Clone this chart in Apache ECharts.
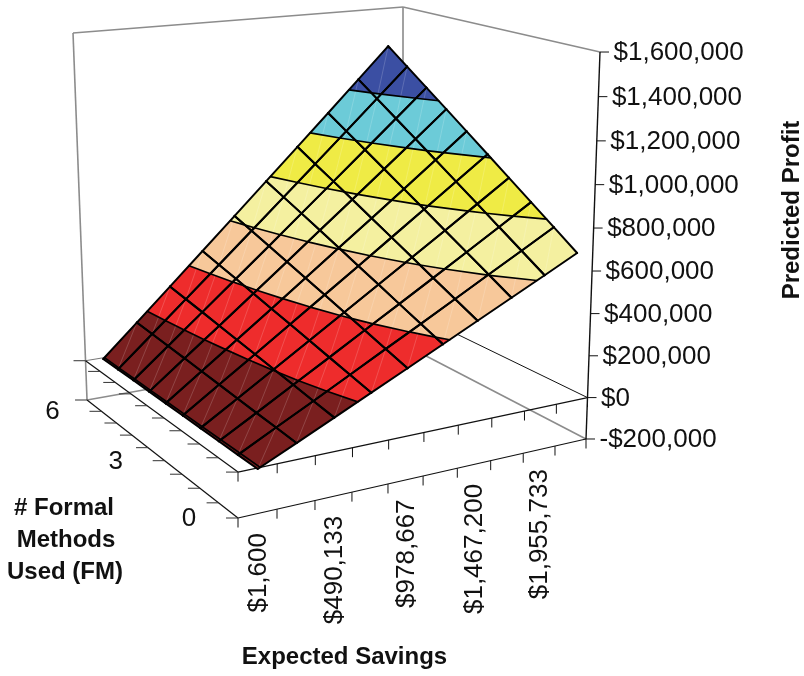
<!DOCTYPE html>
<html><head><meta charset="utf-8">
<style>html,body{margin:0;padding:0;background:#fff}#c{width:804px;height:676px}</style>
<script src="https://cdn.jsdelivr.net/npm/echarts@6/dist/echarts.min.js"></script>
</head><body><div id="c"></div>
<script>
const savings=[1600,245867,490133,734400,978667,1222933,1467200,1711467,1955733,2200000];
const formalMethods=[0,0.75,1.5,2.25,3,3.75,4.5,5.25,6,6.75];
const savingsTickLabels=['$1,600','$490,133','$978,667','$1,467,200','$1,955,733'];
const savingsTickIndex=[0,2,4,6,8];
const fmTickLabels=['0','3','6'];
const fmTickIndex=[0,4,8];
const profitTicks=[-200000,0,200000,400000,600000,800000,1000000,1200000,1400000,1600000];
const bandLimits=[-200000,0,200000,400000,600000,800000,1000000,1200000,1400000,1600000];
const bandColors=['#7a1f1f','#7a1f1f','#ee2c2c','#f7c89a','#f4f0a0','#efeb45','#6ccbd8','#3b4fa3','#3b4fa3'];
// profit in $ thousands, one row per FM value, one column per savings value
const fm0=[-5,73,151,229,307,385,463,541,618,696];
const fm1=[-5,82,168,255,342,428,515,602,688,775];
const fm2=[-5,90,186,281,377,472,567,663,758,854];
const fm3=[-5,99,203,308,412,516,620,724,829,933];
const fm4=[-5,108,221,334,447,560,673,786,899,1012];
const fm5=[-5,117,238,360,482,604,725,847,969,1091];
const fm6=[-5,126,256,387,517,648,778,909,1039,1170];
const fm7=[-5,134,274,413,552,692,831,970,1109,1248];
const fm8=[-5,143,291,439,587,735,883,1031,1179,1327];
const fm9=[-6,151,308,465,622,779,936,1092,1249,1406];
const profit=[fm0,fm1,fm2,fm3,fm4,fm5,fm6,fm7,fm8,fm9];

const FONT='"Liberation Sans",Arial,sans-serif';
function hom(c,x,y){const w=1+c[0]*x+c[1]*y;return [(c[2]+c[3]*x+c[4]*y)/w,(c[5]+c[6]*x+c[7]*y)/w];}
const floorH=[.136,.18,238,427.7,-135.3,518,-19.3,-46];
const topH=[.14,.1806,238,446,-151.8,89,-29.7,-50];
function project(x,y,p){ // x,y in 0..1 of the box, p = profit in dollars
  const z=(p+200000)/1800000, g=z/(1+.043*(1-z));
  const a=hom(floorH,x,y), b=hom(topH,x,y);
  return [a[0]+(b[0]-a[0])*g,a[1]+(b[1]-a[1])*g];
}
const xOf=i=>(i+.5)/savings.length, yOf=j=>j/(formalMethods.length-1);
function clipBand(poly,lo,hi){
  const clip=(pts,inside,lim)=>{const out=[];for(let k=0;k<pts.length;k++){const A=pts[k],B=pts[(k+1)%pts.length],ia=inside(A[2]),ib=inside(B[2]);
    if(ia)out.push(A);
    if(ia!==ib){const t=(lim-A[2])/(B[2]-A[2]);out.push([A[0]+(B[0]-A[0])*t,A[1]+(B[1]-A[1])*t,lim]);}}return out;};
  let r=clip(poly,v=>v>=lo,lo);if(r.length)r=clip(r,v=>v<=hi,hi);return r;
}
function contourSeg(tri,l){const out=[];for(let k=0;k<tri.length;k++){const A=tri[k],B=tri[(k+1)%tri.length];
  if((A[2]<l)!==(B[2]<l)){const t=(l-A[2])/(B[2]-A[2]);out.push([A[0]+(B[0]-A[0])*t,A[1]+(B[1]-A[1])*t,l]);}}return out;}

const cells=[];
for(let j=formalMethods.length-2;j>=0;j--)for(let i=0;i<savings.length-1;i++)cells.push([i,j]);

function renderCell(params,api){
  const i=api.value(0),j=api.value(1);
  const P=(a,b)=>[xOf(a),yOf(b),profit[b][a]*1000];
  const toPx=q=>api.coord(project(q[0],q[1],q[2]));
  const quad=[P(i,j),P(i+1,j),P(i+1,j+1),P(i,j+1)];
  const ch=[];
  for(let b=0;b<bandColors.length;b++){
    const poly=clipBand(quad,b===0?-1e9:bandLimits[b],bandLimits[b+1]);
    if(poly.length>2)ch.push({type:'polygon',shape:{points:poly.map(toPx)},style:{fill:bandColors[b],stroke:bandColors[b],lineWidth:.4}});
  }
  const d=[toPx(quad[0]),toPx(quad[2])];
  ch.push({type:'line',shape:{x1:d[0][0],y1:d[0][1],x2:d[1][0],y2:d[1][1]},style:{stroke:'rgba(255,255,255,.35)',lineWidth:.5}});
  return {type:'group',children:ch};
}
function renderWire(params,api){
  const i=api.value(0),j=api.value(1);
  const P=(a,b)=>[xOf(a),yOf(b),profit[b][a]*1000];
  const toPx=q=>api.coord(project(q[0],q[1],q[2]));
  const quad=[P(i,j),P(i+1,j),P(i+1,j+1),P(i,j+1)];
  const ch=[];
  for(let b=1;b<bandLimits.length-1;b++){
    const s=contourSeg(quad,bandLimits[b]);
    if(s.length===2){const a=toPx(s[0]),c=toPx(s[1]);ch.push({type:'line',shape:{x1:a[0],y1:a[1],x2:c[0],y2:c[1]},style:{stroke:'#000',lineWidth:1.7,lineCap:'round'}});}
  }
  const q=quad.map(toPx);
  for(let k=0;k<4;k++){const a=q[k],c=q[(k+1)%4];
    ch.push({type:'line',shape:{x1:a[0],y1:a[1],x2:c[0],y2:c[1]},style:{stroke:'#000',lineWidth:2,lineCap:'round'}});}
  return {type:'group',children:ch};
}
// frame: [x0,y0,p0,x1,y1,p1,colour,width]
const GREY='#8c8c8c',pMin=-200000,pMax=1600000;
const frame=[
 [0,1,pMax,1,1,pMax,GREY,1.6],[1,1,pMax,1,0,pMax,GREY,1.6],[1,1,pMin,1,1,pMax,GREY,1.6],[0,1,pMin,0,1,pMax,GREY,1.6],
 [0,1,pMin,1,1,pMin,GREY,1.6],[1,1,pMin,1,0,pMin,GREY,1.6],
 [0,1,0,1,1,0,'#777',1],[1,1,0,1,0,0,'#111',1],
 [0,1,0,0,0,0,'#111',1.2],[0,0,0,1,0,0,'#111',1.2],
 [0,1,pMin,0,0,pMin,'#111',1.2],[0,0,pMin,1,0,pMin,'#111',1.2],
 [1,0,pMin,1,0,pMax,'#111',1.4]
];
function renderFrame(params,api){
  const f=frame[api.value(0)];
  const a=api.coord(project(f[0],f[1],f[2])),b=api.coord(project(f[3],f[4],f[5]));
  return {type:'line',shape:{x1:a[0],y1:a[1],x2:b[0],y2:b[1]},style:{stroke:f[6],lineWidth:f[7]}};
}
const tickData=[];
[0,pMin].forEach(p=>{
  for(let k=0;k<=savings.length;k++)tickData.push(['x',k/savings.length,p]);
  for(let k=0;k<formalMethods.length;k++)tickData.push(['y',k/(formalMethods.length-1),p]);
});
profitTicks.forEach(p=>tickData.push(['z',p,p]));
function renderTick(params,api){
  const t=tickData[params.dataIndex];
  let a,b;
  if(t[0]==='x'){a=api.coord(project(t[1],0,t[2]));b=[a[0],a[1]+9.5];}
  else if(t[0]==='y'){a=api.coord(project(0,t[1],t[2]));b=[a[0]-12,a[1]];}
  else{a=api.coord(project(1,0,t[1]));b=[a[0]+9,a[1]];}
  return {type:'line',shape:{x1:a[0],y1:a[1],x2:b[0],y2:b[1]},style:{stroke:t[0]==='y'?'#333':'#111',lineWidth:1}};
}
const money=v=>(v<0?'-':'')+'$'+Math.abs(v).toString().replace(/\B(?=(\d{3})+$)/g,',');
const labelData=[];
profitTicks.forEach(p=>labelData.push(['z',p,money(p)]));
savingsTickIndex.forEach((s,k)=>labelData.push(['x',s,savingsTickLabels[k]]));
fmTickIndex.forEach((s,k)=>labelData.push(['y',s,fmTickLabels[k]]));
function renderLabel(params,api){
  const t=labelData[params.dataIndex];
  if(t[0]==='z'){const a=api.coord(project(1,0,t[1]));
    return {type:'text',style:{x:a[0]+13.5,y:a[1]+1,text:t[2],fill:'#111',font:'26px '+FONT,verticalAlign:'middle',align:'left'}};}
  if(t[0]==='x'){const a=api.coord(project(xOf(t[1]),0,pMin));
    return {type:'text',x:a[0]+1,y:a[1]+19.5,rotation:Math.PI/2,style:{x:0,y:0,text:t[2],fill:'#111',font:'26px '+FONT,verticalAlign:'middle',align:'right'}};}
  const a=api.coord(project(0,yOf(t[1]),pMin));
  return {type:'text',style:{x:a[0]-49,y:a[1]+1,text:t[2],fill:'#111',font:'26px '+FONT,verticalAlign:'middle',align:'center'}};
}
const titles=[
 {t:'Predicted Profit',x:792,y:210,r:Math.PI/2},
 {t:'Expected Savings',x:344.5,y:657,r:0},
 {t:'# Formal',x:64,y:508,r:0},
 {t:'Methods',x:66,y:540,r:0},
 {t:'Used (FM)',x:65,y:572,r:0}
];
const chart=echarts.init(document.getElementById('c'),null,{renderer:'canvas'});
const base={type:'custom',coordinateSystem:'cartesian2d',silent:true,clip:false,animation:false};
chart.setOption({
  animation:false,backgroundColor:'#fff',
  grid:{left:0,right:0,top:0,bottom:0},
  xAxis:{type:'value',min:0,max:804,show:false},
  yAxis:{type:'value',min:0,max:676,inverse:true,show:false},
  series:[
    Object.assign({},base,{z:1,renderItem:renderFrame,data:frame.map((f,k)=>[k])}),
    Object.assign({},base,{z:2,renderItem:renderTick,data:tickData.map((f,k)=>[k])}),
    Object.assign({},base,{z:3,renderItem:renderCell,data:cells}),
    Object.assign({},base,{z:4,renderItem:renderWire,data:cells}),
    Object.assign({},base,{z:5,renderItem:renderLabel,data:labelData.map((f,k)=>[k])}),
  ],
  graphic:titles.map(t=>({type:'text',x:t.x,y:t.y,rotation:t.r,z:10,
    style:{text:t.t,fill:'#111',font:'bold 24px '+FONT,align:'center',verticalAlign:'middle'}}))
});
</script></body></html>
